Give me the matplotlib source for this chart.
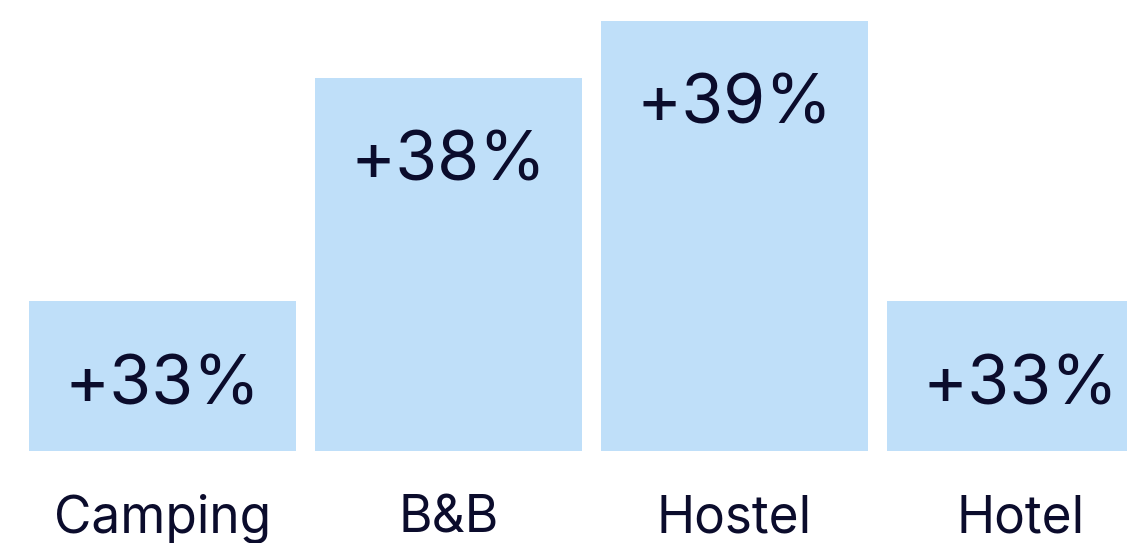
import matplotlib.pyplot as plt
from matplotlib.transforms import blended_transform_factory

# Données
categories = ['Camping', 'B&B', 'Hostel', 'Hotel']
values = [33, 37.78, 39, 33]
value_labels = ['+33%', '+38%', '+39%', '+33%']

bar_color = '#bfdff9'
text_color = '#0b0c2c'
plt.rcParams['font.family'] = ['Inter', 'DejaVu Sans']

fig = plt.figure(figsize=(11.27, 5.43), dpi=100)
ax = fig.add_axes([0, 92 / 543, 1, 451 / 543])

base = 29.8
x = range(len(categories))
heights = [v - base for v in values]
bars = ax.bar(x, heights, bottom=base, width=0.934, color=bar_color)

ax.set_xlim(-0.568, 3.372)
ax.set_ylim(base, 39.44)
ax.axis('off')

# Étiquettes de valeur dans les barres
for b, lab in zip(bars, value_labels):
    ax.annotate(lab, (b.get_x() + b.get_width() / 2, b.get_y() + b.get_height()),
                xytext=(0, -103), textcoords='offset pixels',
                ha='center', va='baseline', fontsize=49, color=text_color)

# Noms des catégories sous les barres
trans = blended_transform_factory(ax.transData, ax.transAxes)
for xi, cat in zip(x, categories):
    ax.text(xi, -0.1818, cat, transform=trans, ha='center', va='baseline',
            fontsize=37, color=text_color, clip_on=False)

fig.savefig('out.png', dpi=100)
